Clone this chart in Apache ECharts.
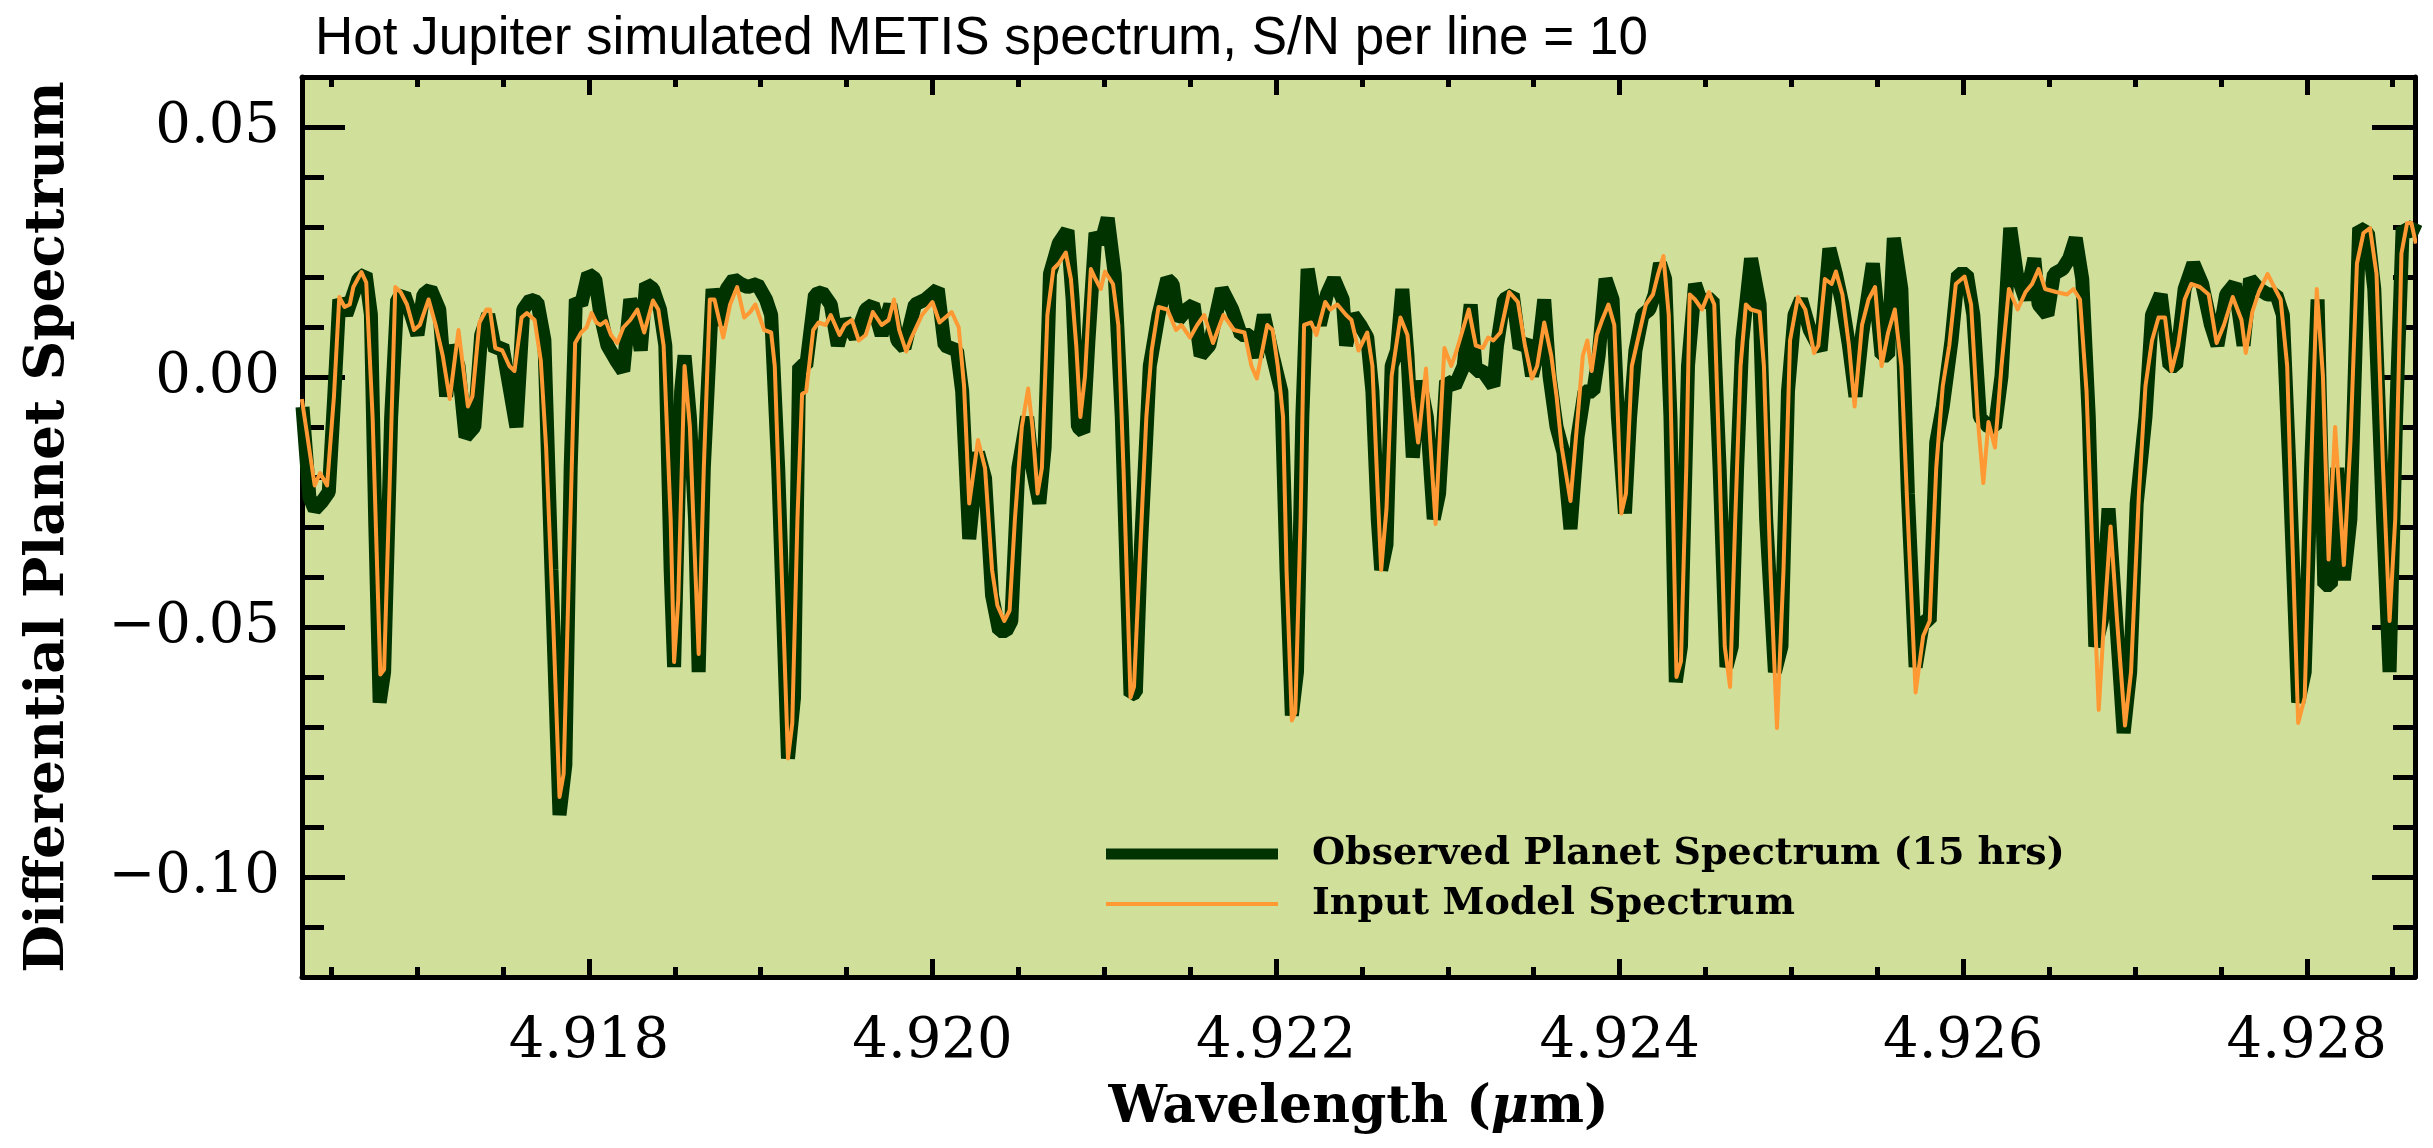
<!DOCTYPE html>
<html><head><meta charset="utf-8">
<script src="https://cdn.jsdelivr.net/npm/echarts@6/dist/echarts.min.js"></script>
<style>html,body{margin:0;padding:0;background:#fff}#c{width:2433px;height:1148px}</style>
</head><body><div id="c"></div><script>
const chartTitle = 'Hot Jupiter simulated METIS spectrum, S/N per line = 10';
const xAxisTitle = 'Wavelength ({mu|μ}m)';
const yAxisTitle = 'Differential Planet Spectrum';
const seriesNames = ['Observed Planet Spectrum (15 hrs)', 'Input Model Spectrum'];
const xRange = [4.91633, 4.92863];
const yRange = [-0.12, 0.06];
const xMajorTicks = [4.918, 4.920, 4.922, 4.924, 4.926, 4.928];
const xMinorTicks = [4.9165, 4.9170, 4.9175, 4.9180, 4.9185, 4.9190, 4.9195, 4.9200, 4.9205, 4.9210, 4.9215, 4.9220, 4.9225, 4.9230, 4.9235, 4.9240, 4.9245, 4.9250, 4.9255, 4.9260, 4.9265, 4.9270, 4.9275, 4.9280, 4.9285];
const yMajorTicks = [-0.10, -0.05, 0.00, 0.05];
const yMinorTicks = [-0.12, -0.11, -0.10, -0.09, -0.08, -0.07, -0.06, -0.05, -0.04, -0.03, -0.02, -0.01, 0.00, 0.01, 0.02, 0.03, 0.04, 0.05, 0.06];

const obsWave = [4.916333,4.916373,4.916404,4.916445,4.916486,4.916516,4.916547,4.916588,4.916618,4.916659,4.916700,4.916731,4.916757,4.916782,4.916808,4.916849,4.916884,4.916925,4.916965,4.917002,4.917037,4.917078,4.917129,4.917169,4.917200,4.917241,4.917282,4.917333,4.917373,4.917414,4.917455,4.917496,4.917537,4.917578,4.917618,4.917659,4.917700,4.917741,4.917782,4.917829,4.917863,4.917894,4.917924,4.917955,4.917996,4.918037,4.918067,4.918108,4.918159,4.918200,4.918241,4.918271,4.918302,4.918333,4.918373,4.918414,4.918445,4.918476,4.918496,4.918537,4.918557,4.918588,4.918618,4.918639,4.918669,4.918720,4.918761,4.918802,4.918843,4.918884,4.918924,
4.918980,4.919031,4.919061,4.919102,4.919159,4.919194,4.919224,4.919265,4.919316,4.919357,4.919408,4.919449,4.919490,4.919551,4.919612,4.919653,4.919704,4.919755,4.919796,4.919837,4.919898,4.919959,4.920031,4.920071,4.920143,4.920173,4.920214,4.920265,4.920306,4.920347,4.920388,4.920429,4.920459,4.920500,4.920551,4.920582,4.920622,4.920653,4.920684,4.920735,4.920786,4.920816,4.920847,4.920878,4.920908,4.920949,4.920980,4.921020,4.921061,4.921102,4.921153,4.921184,4.921214,4.921265,4.921316,4.921367,4.921398,4.921429,4.921480,4.921520,4.921561,4.921612,4.921684,4.921745,4.921796,4.921847,
4.921888,4.921929,4.921980,4.922031,4.922061,4.922092,4.922122,4.922153,4.922184,4.922214,4.922255,4.922296,4.922337,4.922388,4.922408,4.922449,4.922490,4.922531,4.922561,4.922592,4.922612,4.922643,4.922673,4.922704,4.922735,4.922765,4.922796,4.922837,4.922878,4.922918,4.922949,4.922990,4.923041,4.923092,4.923133,4.923163,4.923204,4.923265,4.923286,4.923327,4.923378,4.923418,4.923459,4.923490,4.923531,4.923561,4.923592,4.923633,4.923673,4.923714,4.923755,4.923796,4.923847,4.923878,4.923918,4.923959,4.923990,4.924031,4.924061,4.924092,4.924133,4.924173,4.924204,4.924235,4.924265,4.924296,4.924327,4.924357,4.924398,4.924439,4.924480,4.924510,4.924541,4.924582,4.924622,4.924653,4.924684,4.924714,4.924765,
4.924815,4.924853,4.924904,4.924942,4.924980,4.925018,4.925056,4.925107,4.925170,4.925221,4.925259,4.925297,4.925335,4.925373,4.925411,4.925474,4.925525,4.925563,4.925596,4.925640,4.925678,4.925723,4.925767,4.925805,4.925843,4.925881,4.925932,4.925970,4.926021,4.926059,4.926097,4.926147,4.926185,4.926223,4.926274,4.926312,4.926363,4.926414,4.926439,4.926490,4.926528,4.926579,4.926617,4.926655,4.926693,4.926731,4.926769,4.926807,4.926846,4.926891,4.926934,4.926972,4.927010,4.927061,4.927099,4.927150,4.927201,4.927239,4.927289,4.927340,4.927391,4.927442,4.927480,4.927531,4.927581,4.927632,4.927670,4.927721,4.927772,4.927823,4.927861,4.927899,4.927950,4.927988,4.928025,4.928063,4.928102,4.928140,4.928178,4.928216,4.928254,4.928305,4.928356,4.928393,4.928444,4.928482,4.928520,4.928558,4.928609,4.928635];
const obsFlux = [-0.0060,-0.0240,-0.0265,-0.0250,-0.0230,-0.0050,0.0155,0.0125,0.0155,0.0196,0.0206,0.0125,-0.0300,-0.0651,-0.0590,-0.0080,0.0155,0.0165,0.0125,0.0084,0.0165,0.0176,0.0135,-0.0039,0.0063,0.0022,-0.0120,-0.0100,0.0084,0.0125,0.0053,0.0063,-0.0018,-0.0100,0.0135,0.0155,0.0150,0.0074,-0.0386,-0.0876,-0.0776,-0.0182,0.0155,0.0145,0.0206,0.0196,0.0125,0.0063,0.0033,0.0012,0.0155,0.0125,0.0053,0.0186,0.0176,0.0135,0.0063,-0.0386,-0.0580,-0.0029,0.0043,-0.0080,-0.0284,-0.0590,-0.0182,0.0176,0.0104,0.0176,0.0196,0.0186,0.0180,
0.0186,0.0155,0.0124,-0.0182,-0.0763,-0.0641,0.0022,0.0022,0.0165,0.0170,0.0145,0.0063,0.0114,0.0079,0.0135,0.0145,0.0084,0.0145,0.0073,0.0058,0.0145,0.0155,0.0176,0.0063,0.0053,-0.0029,-0.0324,-0.0151,-0.0202,-0.0437,-0.0508,-0.0508,-0.0488,-0.0182,-0.0080,-0.0182,-0.0253,-0.0141,0.0206,0.0267,0.0293,0.0155,-0.0100,-0.0110,0.0073,0.0288,0.0267,0.0318,0.0206,-0.0080,-0.0636,-0.0631,-0.0335,0.0022,0.0124,0.0196,0.0186,0.0114,0.0135,0.0145,0.0043,0.0063,0.0176,0.0135,0.0084,0.0084,
0.0040,0.0124,0.0043,-0.0029,-0.0386,-0.0677,-0.0590,-0.0080,0.0216,0.0155,0.0104,0.0165,0.0196,0.0155,0.0063,0.0124,0.0104,0.0079,-0.0029,-0.0284,-0.0386,-0.0335,0.0022,0.0053,0.0176,0.0043,-0.0161,-0.0008,-0.0080,-0.0284,-0.0233,-0.0008,-0.0018,0.0022,0.0145,0.0012,0.0012,-0.0018,0.0063,0.0155,0.0165,0.0058,0.0073,0.0002,0.0063,0.0155,0.0002,-0.0100,-0.0151,-0.0304,-0.0120,-0.0029,-0.0029,0.0043,0.0196,0.0155,-0.0080,-0.0273,-0.0080,0.0053,0.0124,0.0135,0.0165,0.0227,0.0196,-0.0080,-0.0610,-0.0539,0.0022,0.0186,0.0145,0.0155,0.0155,-0.0182,-0.0580,-0.0539,-0.0182,0.0073,0.0237,
0.0145,-0.0284,-0.0590,-0.0539,-0.0029,0.0124,0.0155,0.0094,0.0053,0.0257,0.0206,0.0145,0.0063,-0.0039,0.0084,0.0227,0.0043,0.0043,0.0278,0.0176,-0.0233,-0.0580,-0.0488,-0.0488,-0.0131,-0.0059,0.0073,0.0206,0.0206,0.0124,-0.0080,-0.0100,-0.0100,0.0002,0.0298,0.0206,0.0155,0.0237,0.0145,0.0124,0.0206,0.0216,0.0237,0.0278,0.0196,-0.0080,-0.0539,-0.0488,-0.0263,-0.0488,-0.0712,-0.0590,-0.0253,-0.0080,0.0124,0.0165,0.0022,0.0022,0.0176,0.0227,0.0186,0.0104,0.0063,0.0165,0.0186,0.0063,0.0196,0.0176,0.0165,0.0165,0.0124,-0.0182,-0.0651,-0.0590,-0.0182,0.0155,-0.0416,-0.0416,-0.0182,-0.0406,-0.0284,0.0298,0.0288,0.0176,-0.0284,-0.0590,-0.0080,0.0298,0.0288,0.0308];

const modWave = [4.916329,4.916404,4.916435,4.916476,4.916516,4.916547,4.916578,4.916608,4.916629,4.916676,4.916704,4.916741,4.916786,4.916808,4.916843,4.916873,4.916904,4.916941,4.916982,4.917016,4.917067,4.917108,4.917149,4.917190,4.917241,4.917296,4.917322,4.917363,4.917404,4.917424,4.917455,4.917496,4.917537,4.917567,4.917608,4.917639,4.917684,4.917720,4.917751,4.917792,4.917829,4.917853,4.917884,4.917920,4.917955,4.917986,4.918016,4.918043,4.918067,4.918098,4.918129,4.918165,4.918200,4.918241,4.918282,4.918322,4.918373,4.918404,4.918435,4.918476,4.918496,4.918520,4.918557,4.918588,4.918608,4.918639,4.918669,4.918704,4.918731,4.918782,4.918822,4.918863,4.918904,
4.918939,4.918969,4.919020,4.919061,4.919082,4.919112,4.919159,4.919184,4.919214,4.919241,4.919265,4.919306,4.919337,4.919378,4.919408,4.919459,4.919490,4.919531,4.919571,4.919612,4.919653,4.919704,4.919745,4.919776,4.919806,4.919847,4.919878,4.919939,4.920000,4.920041,4.920112,4.920153,4.920184,4.920214,4.920265,4.920306,4.920347,4.920378,4.920418,4.920449,4.920480,4.920520,4.920557,4.920582,4.920612,4.920637,4.920669,4.920704,4.920735,4.920776,4.920806,4.920837,4.920861,4.920888,4.920922,4.920949,4.920980,4.921004,4.921051,4.921082,4.921112,4.921153,4.921173,4.921204,4.921245,4.921276,4.921316,4.921367,4.921418,4.921449,4.921500,4.921541,4.921582,4.921633,4.921694,4.921755,4.921816,
4.921857,4.921888,4.921949,4.921980,4.922010,4.922041,4.922061,4.922092,4.922112,4.922143,4.922163,4.922204,4.922235,4.922286,4.922316,4.922357,4.922408,4.922439,4.922480,4.922531,4.922561,4.922592,4.922612,4.922643,4.922673,4.922724,4.922765,4.922796,4.922827,4.922873,4.922898,4.922929,4.922959,4.922980,4.923020,4.923051,4.923122,4.923163,4.923204,4.923235,4.923265,4.923306,4.923357,4.923408,4.923449,4.923490,4.923520,4.923561,4.923602,4.923633,4.923663,4.923714,4.923751,4.923786,4.923812,4.923837,4.923867,4.923898,4.923935,4.923969,4.923990,4.924010,4.924037,4.924071,4.924112,4.924153,4.924194,4.924224,4.924255,4.924286,4.924306,4.924331,4.924357,4.924388,4.924408,4.924439,4.924480,4.924520,4.924551,4.924582,4.924612,4.924643,4.924673,4.924704,4.924735,
4.924764,4.924815,4.924840,4.924878,4.924916,4.924954,4.924992,4.925038,4.925081,4.925132,4.925157,4.925195,4.925234,4.925259,4.925297,4.925335,4.925368,4.925411,4.925449,4.925487,4.925525,4.925563,4.925602,4.925640,4.925678,4.925723,4.925767,4.925805,4.925843,4.925881,4.925919,4.925957,4.926008,4.926046,4.926084,4.926117,4.926147,4.926185,4.926223,4.926266,4.926317,4.926363,4.926401,4.926439,4.926477,4.926541,4.926604,4.926642,4.926680,4.926718,4.926756,4.926789,4.926820,4.926858,4.926896,4.926942,4.926977,4.927023,4.927061,4.927099,4.927137,4.927175,4.927213,4.927251,4.927289,4.927327,4.927378,4.927429,4.927475,4.927518,4.927569,4.927620,4.927645,4.927683,4.927721,4.927772,4.927810,4.927848,4.927886,4.927912,4.927950,4.927988,4.928025,4.928058,4.928094,4.928127,4.928165,4.928216,4.928254,4.928292,4.928330,4.928368,4.928406,4.928444,4.928482,4.928515,4.928551,4.928584,4.928609,4.928635];
const modFlux = [-0.0044,-0.0217,-0.0192,-0.0217,-0.0039,0.0160,0.0140,0.0145,0.0180,0.0210,0.0189,-0.0080,-0.0595,-0.0585,-0.0182,0.0180,0.0170,0.0145,0.0094,0.0104,0.0155,0.0104,0.0043,-0.0044,0.0094,-0.0059,-0.0039,0.0109,0.0135,0.0135,0.0058,0.0053,0.0022,0.0012,0.0119,0.0128,0.0114,0.0033,-0.0141,-0.0488,-0.0840,-0.0794,-0.0386,0.0068,0.0089,0.0099,0.0128,0.0109,0.0104,0.0112,0.0084,0.0068,0.0099,0.0114,0.0135,0.0089,0.0153,0.0135,0.0063,-0.0284,-0.0570,-0.0447,0.0022,-0.0100,-0.0284,-0.0554,-0.0182,0.0155,0.0155,0.0079,0.0145,0.0180,0.0119,
0.0130,0.0145,0.0094,0.0089,0.0022,-0.0284,-0.0763,-0.0692,-0.0284,-0.0034,-0.0029,0.0094,0.0109,0.0104,0.0124,0.0084,0.0104,0.0114,0.0073,0.0084,0.0130,0.0104,0.0114,0.0155,0.0094,0.0051,0.0079,0.0124,0.0150,0.0109,0.0130,0.0099,-0.0018,-0.0253,-0.0126,-0.0182,-0.0386,-0.0457,-0.0488,-0.0467,-0.0284,-0.0100,-0.0023,-0.0100,-0.0233,-0.0182,0.0124,0.0216,0.0227,0.0249,0.0196,0.0063,-0.0080,0.0002,0.0216,0.0196,0.0176,0.0211,0.0186,0.0104,-0.0182,-0.0641,-0.0620,-0.0386,-0.0080,0.0053,0.0140,0.0135,0.0094,0.0104,0.0079,0.0104,0.0124,0.0068,0.0124,0.0094,0.0089,
0.0022,-0.0003,0.0104,0.0094,0.0022,-0.0080,-0.0386,-0.0687,-0.0671,-0.0284,0.0104,0.0109,0.0084,0.0150,0.0135,0.0145,0.0124,0.0114,0.0053,0.0089,0.0022,-0.0233,-0.0386,-0.0263,0.0002,0.0119,0.0084,-0.0039,-0.0131,0.0017,-0.0131,-0.0294,-0.0080,0.0058,0.0022,0.0053,0.0135,0.0063,0.0058,0.0079,0.0073,0.0089,0.0170,0.0150,0.0063,-0.0003,0.0022,0.0109,0.0043,-0.0039,-0.0141,-0.0248,-0.0100,0.0043,0.0073,0.0012,0.0084,0.0114,0.0145,0.0104,-0.0080,-0.0273,-0.0233,0.0022,0.0084,0.0145,0.0165,0.0206,0.0242,0.0124,-0.0182,-0.0600,-0.0569,-0.0182,0.0165,0.0155,0.0135,0.0170,0.0145,-0.0182,-0.0539,-0.0620,-0.0284,0.0022,0.0145,
0.0135,0.0130,0.0022,-0.0386,-0.0702,-0.0386,0.0073,0.0160,0.0135,0.0048,0.0063,0.0196,0.0186,0.0211,0.0165,0.0063,-0.0059,0.0104,0.0155,0.0180,0.0022,0.0089,0.0135,0.0022,-0.0284,-0.0631,-0.0518,-0.0488,-0.0182,-0.0018,0.0063,0.0186,0.0201,0.0145,-0.0080,-0.0212,-0.0090,-0.0141,0.0022,0.0176,0.0135,0.0170,0.0186,0.0216,0.0176,0.0170,0.0165,0.0176,0.0155,-0.0029,-0.0386,-0.0666,-0.0488,-0.0299,-0.0488,-0.0697,-0.0590,-0.0233,-0.0018,0.0073,0.0119,0.0119,0.0012,0.0063,0.0155,0.0186,0.0180,0.0165,0.0068,0.0104,0.0160,0.0114,0.0048,0.0130,0.0170,0.0206,0.0180,0.0155,0.0022,-0.0284,-0.0692,-0.0641,-0.0182,0.0176,0.0002,-0.0365,-0.0100,-0.0376,-0.0131,0.0227,0.0288,0.0298,0.0206,-0.0182,-0.0488,-0.0284,0.0247,0.0308,0.0308,0.0267];

const colObs = '#003300', colMod = '#FF9933', colBg = '#D0E09B';
const serifFont = 'DejaVu Serif';

function zip(a, b) { return a.map((v, i) => [v, b[i]]); }
function yFmt(v) { const r = Math.round(v * 100) / 100; if (r === 0) return '0.00'; return (r < 0 ? '\u2212' : '') + Math.abs(r).toFixed(2); }

const axisLineStyle = { show: true, onZero: false, lineStyle: { color: '#000', width: 5 } };
const noLine = { show: false, onZero: false };
function xAx(pos, ticks, len, withLine, withLabel) {
  return {
    type: 'value', position: pos, min: xRange[0], max: xRange[1],
    axisLine: withLine ? axisLineStyle : noLine,
    axisTick: { show: true, inside: true, length: len, customValues: ticks, lineStyle: { color: '#000', width: 5 } },
    axisLabel: withLabel ? { show: true, customValues: ticks, formatter: v => v.toFixed(3), margin: 37, color: '#000', fontFamily: serifFont, fontSize: 56 } : { show: false },
    splitLine: { show: false }
  };
}
function yAx(pos, ticks, len, withLine, withLabel) {
  return {
    type: 'value', position: pos, min: yRange[0], max: yRange[1],
    axisLine: withLine ? axisLineStyle : noLine,
    axisTick: { show: true, inside: true, length: len, customValues: ticks, lineStyle: { color: '#000', width: 5 } },
    axisLabel: withLabel ? { show: true, customValues: ticks, formatter: yFmt, margin: 22, color: '#000', fontFamily: serifFont, fontSize: 56 } : { show: false },
    splitLine: { show: false }
  };
}

const xAxes = [xAx('bottom', xMajorTicks, 18, true, true), xAx('bottom', xMinorTicks, 10, false, false), xAx('top', xMajorTicks, 18, true, false), xAx('top', xMinorTicks, 10, false, false)];
Object.assign(xAxes[0], { name: xAxisTitle, nameLocation: 'middle', nameGap: 105, nameTextStyle: { color: '#000', fontFamily: serifFont, fontWeight: 'bold', fontSize: 52, rich: { mu: { fontFamily: serifFont, fontStyle: 'italic', fontWeight: 'bold', fontSize: 52, color: '#000' } } } });
const yAxes = [yAx('left', yMajorTicks, 43, true, true), yAx('left', yMinorTicks, 22, false, false), yAx('right', yMajorTicks, 43, true, false), yAx('right', yMinorTicks, 22, false, false)];
Object.assign(yAxes[0], { name: yAxisTitle, nameLocation: 'middle', nameGap: 226, nameRotate: 90, nameTextStyle: { color: '#000', fontFamily: serifFont, fontWeight: 'bold', fontSize: 55 } });

const legendText = { color: '#000', fontFamily: serifFont, fontWeight: 'bold', fontSize: 38, padding: [0, 0, 0, 29] };
const option = {
  animation: false,
  backgroundColor: '#fff',
  title: { text: chartTitle, left: 310, top: 8, textStyle: { color: '#000', fontFamily: 'Liberation Sans', fontWeight: 'normal', fontSize: 53 } },
  grid: { left: 302, right: 18, top: 77, bottom: 171, show: true, backgroundColor: colBg, borderWidth: 0, containLabel: false },
  legend: [
    { data: [seriesNames[0]], left: 1101, top: 830, icon: 'rect', itemWidth: 172, itemHeight: 11, itemStyle: { borderWidth: 0 }, textStyle: legendText, selectedMode: false },
    { data: [seriesNames[1]], left: 1101, top: 880, icon: 'rect', itemWidth: 172, itemHeight: 4, itemStyle: { borderWidth: 0 }, textStyle: legendText, selectedMode: false }
  ],
  xAxis: xAxes,
  yAxis: yAxes,
  series: [
    { name: seriesNames[0], type: 'line', xAxisIndex: 0, yAxisIndex: 0, data: zip(obsWave, obsFlux), showSymbol: false, symbol: 'none', color: colObs, lineStyle: { color: colObs, width: 14, join: 'bevel' }, z: 2 },
    { name: seriesNames[1], type: 'line', xAxisIndex: 0, yAxisIndex: 0, data: zip(modWave, modFlux), showSymbol: false, symbol: 'none', color: colMod, lineStyle: { color: colMod, width: 4, join: 'round' }, z: 3 }
  ]
};
const chart = echarts.init(document.getElementById('c'));
chart.setOption(option);
</script></body></html>
